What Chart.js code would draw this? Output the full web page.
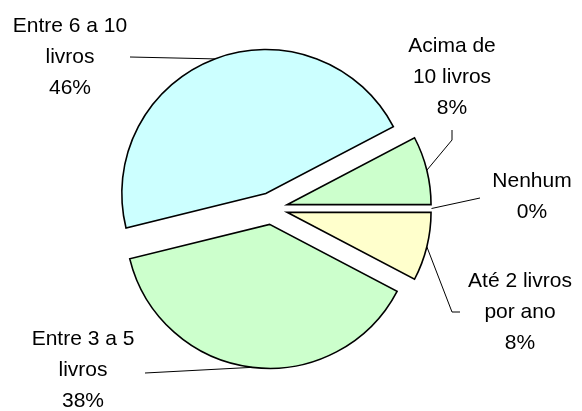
<!DOCTYPE html>
<html>
<head>
<meta charset="utf-8">
<script src="https://cdn.jsdelivr.net/npm/chart.js@4"></script>
<style>
  html, body { margin: 0; padding: 0; background: #fff; }
  #wrap { width: 582px; height: 411px; }
</style>
</head>
<body>
<div id="wrap"><canvas id="livrosChart" width="582" height="411"></canvas></div>
<script>
// dados
const categories = ['Nenhum', 'Até 2 livros por ano', 'Entre 3 a 5 livros', 'Entre 6 a 10 livros', 'Acima de 10 livros'];
const values = [0, 2, 10, 12, 2];
const colors = ['#ffffcc', '#ffffcc', '#ccffcc', '#ccffff', '#ccffcc'];

// layout dos rótulos (quebras de linha, posição, linha de chamada)
const labelLines = [
    ['Nenhum'],
    ['Até 2 livros', 'por ano'],
    ['Entre 3 a 5', 'livros'],
    ['Entre 6 a 10', 'livros'],
    ['Acima de', '10 livros']
];
const labelPos = [
    { x: 532, y: 187, line: [[480, 198]] },
    { x: 520, y: 287, line: [[460, 312], [452, 312]] },
    { x: 83, y: 345, line: [[145, 373]] },
    { x: 70, y: 32, line: [[130, 57]] },
    { x: 452, y: 52, line: [[452, 130], [452, 140]] }
];
const explode = 16;
const lineHeight = 31;

const total = values.reduce((a, b) => a + b, 0);

const explodePlugin = {
    id: 'explode',
    beforeDatasetsDraw(chart) {
        chart.getDatasetMeta(0).data.forEach(function (arc) {
            if (arc._exploded) return;
            const draw = arc.draw;
            arc.draw = function (ctx) {
                const mid = (this.startAngle + this.endAngle) / 2;
                ctx.save();
                ctx.translate(Math.cos(mid) * explode, Math.sin(mid) * explode);
                draw.call(this, ctx);
                ctx.restore();
            };
            arc._exploded = true;
        });
    }
};

const labelsPlugin = {
    id: 'pieLabels',
    afterDatasetsDraw(chart) {
        const ctx = chart.ctx;
        const arcs = chart.getDatasetMeta(0).data;
        ctx.save();
        ctx.font = '21px "Liberation Sans", Arial, sans-serif';
        ctx.fillStyle = '#000';
        ctx.textAlign = 'center';
        ctx.textBaseline = 'alphabetic';
        ctx.strokeStyle = '#000';
        ctx.lineWidth = 1;
        arcs.forEach(function (arc, i) {
            const pos = labelPos[i];
            const pct = Math.round(values[i] / total * 100) + '%';
            const lines = labelLines[i].concat([pct]);
            lines.forEach(function (t, k) {
                ctx.fillText(t, pos.x, pos.y + k * lineHeight);
            });
            const mid = (arc.startAngle + arc.endAngle) / 2;
            const ex = arc.x + Math.cos(mid) * (explode + arc.outerRadius);
            const ey = arc.y + Math.sin(mid) * (explode + arc.outerRadius);
            ctx.beginPath();
            ctx.moveTo(pos.line[0][0], pos.line[0][1]);
            for (let k = 1; k < pos.line.length; k++) ctx.lineTo(pos.line[k][0], pos.line[k][1]);
            ctx.lineTo(ex, ey);
            ctx.stroke();
        });
        ctx.restore();
    }
};

const ctx = document.getElementById('livrosChart').getContext('2d');
new Chart(ctx, {
    type: 'pie',
    data: {
        labels: categories,
        datasets: [{
            data: values,
            backgroundColor: colors,
            borderColor: '#000',
            borderWidth: 1.6,
            borderJoinStyle: 'miter'
        }]
    },
    options: {
        responsive: false,
        animation: false,
        rotation: 90,
        radius: 144,
        layout: { padding: { left: 0, right: 39, top: 6, bottom: 0 } },
        plugins: {
            legend: { display: false },
            tooltip: { enabled: false }
        }
    },
    plugins: [explodePlugin, labelsPlugin]
});
</script>
</body>
</html>
